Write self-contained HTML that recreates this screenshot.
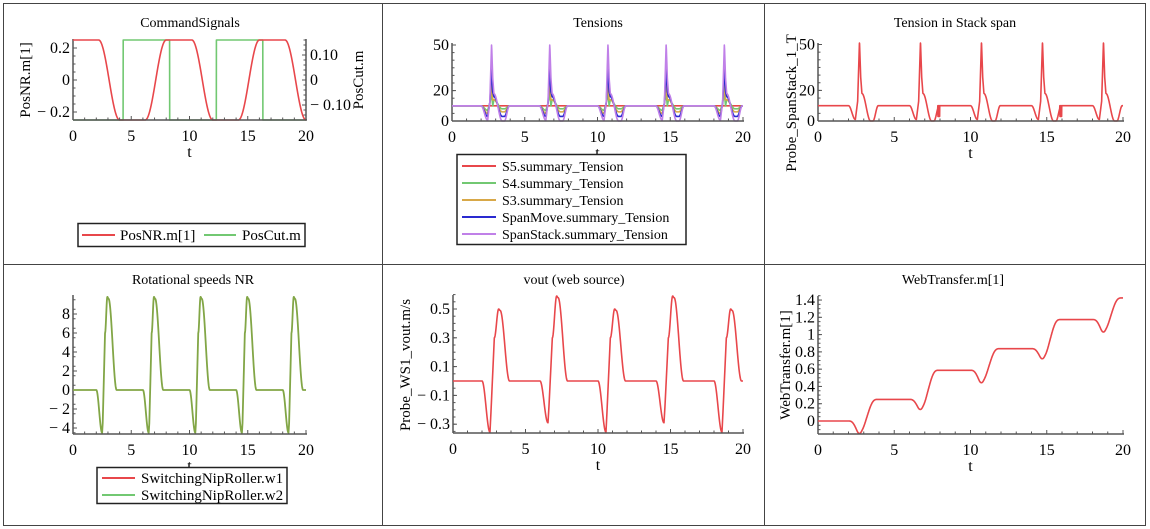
<!DOCTYPE html>
<html><head><meta charset="utf-8">
<style>
html,body{margin:0;padding:0;background:#fff;}
svg{display:block;font-family:"Liberation Serif",serif;}
</style></head>
<body>
<svg id="s" width="1150" height="529" viewBox="0 0 1150 529" xmlns="http://www.w3.org/2000/svg">
<rect x="0" y="0" width="1150" height="529" fill="#fff"/>
<g stroke="#444" stroke-width="1" fill="none">
<rect x="3.5" y="3.5" width="1142" height="522"/>
<line x1="382.5" y1="3.5" x2="382.5" y2="525.5"/>
<line x1="764.5" y1="3.5" x2="764.5" y2="525.5"/>
<line x1="3.5" y1="264.5" x2="1145.5" y2="264.5"/>
</g>
<g id="content"></g>
</svg>
<script>
(function(){
var out=[];
function cos01(a,b,u){return a+(b-a)*(1-Math.cos(Math.PI*u))/2;}
function lin(a,b,u){return a+(b-a)*u;}
function seg(tau,pts){
  for(var i=0;i<pts.length-1;i++){
    if(tau>=pts[i][0]&&tau<=pts[i+1][0]){
      var u=(tau-pts[i][0])/(pts[i+1][0]-pts[i][0]);
      return (pts[i+1][2]==='l')?lin(pts[i][1],pts[i+1][1],u):cos01(pts[i][1],pts[i+1][1],u);
    }
  }
  return pts[pts.length-1][1];
}
function periodic(t,fn){
  if(t<2) return fn(-1,0);
  var k=Math.floor((t-2)/4);var tau=t-2-4*k;
  return fn(k,tau);
}
function vout(t){return periodic(t,function(k,tau){
  if(k<0) return 0;
  var A=(k%2==0)?0.355:0.29,P=(k%2==0)?0.5:0.59;
  return seg(tau,[[0,0],[0.55,-A],[0.62,-A*0.6,'l'],[0.85,0.3,'l'],[1.15,P],[1.25,P*0.98],[1.9,0.0],[4,0]]);
});}
function omega(t){return periodic(t,function(k,tau){
  if(k<0) return 0;
  return seg(tau,[[0,0],[0.5,-4.5],[0.55,-3.5,'l'],[0.75,6,'l'],[0.95,9.8],[1.05,9.6],[1.75,0],[4,0]]);
});}
function tens(lo1,peak,sh,lo2){return function(t){return periodic(t,function(k,tau){
  if(k<0) return 10;
  return seg(tau,[[0,10],[0.45,lo1],[0.6,lo1+(sh-lo1)*0.7,'l'],[0.72,peak,'l'],[0.8,peak*0.55,'l'],[0.88,sh,'l'],[1.45,lo2],[1.6,lo2],[1.95,10],[4,10]]);
});};}
function path(fn,x0,x1,ym,color,w,n){
  n=n||1200;var d='';
  for(var i=0;i<=n;i++){var t=20*i/n;var x=x0+(x1-x0)*t/20;var y=ym(fn(t));
    d+=(i?'L':'M')+x.toFixed(2)+' '+y.toFixed(2);}
  out.push('<path d="'+d+'" fill="none" stroke="'+color+'" stroke-width="'+(w||1.6)+'" stroke-linejoin="round"/>');
}
function text(x,y,s,opt){opt=opt||{};
  out.push('<text x="'+x+'" y="'+y+'" font-size="'+(opt.fs||15)+'" text-anchor="'+(opt.a||'middle')+'"'+(opt.rot?' transform="rotate(-90 '+x+' '+y+')"':'')+' fill="#000">'+s+'</text>');}
function xaxis(x0,x1,y){
  out.push('<line x1="'+x0+'" y1="'+y+'" x2="'+(x1+1)+'" y2="'+y+'" stroke="#555" stroke-width="1.5"/>');
  for(var i=0;i<=20;i++){var x=x0+(x1-x0)*i/20;var L=(i%5==0)?4:2.5;
    out.push('<line x1="'+x+'" y1="'+y+'" x2="'+x+'" y2="'+(y-L)+'" stroke="#555" stroke-width="1"/>');}
  for(var j=0;j<=4;j++){text(x0+(x1-x0)*j/4,y+21,String(j*5),{fs:16});}
  text((x0+x1)/2,y+37,'t',{fs:16});
}
function yaxis(x,ytop,ybot,ticks,minor,ym,side){
  side=side||1;
  out.push('<line x1="'+x+'" y1="'+ytop+'" x2="'+x+'" y2="'+ybot+'" stroke="#555" stroke-width="1.5"/>');
  minor.forEach(function(v){var y=ym(v);out.push('<line x1="'+x+'" y1="'+y+'" x2="'+(x+2.5*side)+'" y2="'+y+'" stroke="#555" stroke-width="1"/>');});
  ticks.forEach(function(tk){var y=ym(tk[0]);
    out.push('<line x1="'+x+'" y1="'+y+'" x2="'+(x+4*side)+'" y2="'+y+'" stroke="#555" stroke-width="1"/>');
    if(side>0) text(x-3,y+5,tk[1],{fs:16,a:'end'}); else text(x+4,y+5,tk[1],{fs:16,a:'start'});});
}
function rng(a,b,s){var r=[];for(var v=a;v<=b+1e-9;v+=s)r.push(v);return r;}
var RED='#e8474b',GRN='#72c872',ORG='#d8a848',BLU='#2a2ad0',PUR='#c080e8',OLV='#82a646';

(function(){
 var X0=73,X1=306,ym=function(v){return 80-160*v;},ym2=function(v){return 80-250*v;};
 text(190,27,'CommandSignals',{fs:14});
 yaxis(X0,39,120,[[0.2,'0.2'],[0,'0'],[-0.2,'− 0.2']],rng(-0.25,0.25,0.05),ym);
 yaxis(X1,39,120,[[0.1,'0.10'],[0,'0'],[-0.1,'− 0.10']],rng(-0.16,0.16,0.02),ym2,-1);
 text(30,80,'PosNR.m[1]',{fs:15,rot:1});
 text(363,80,'PosCut.m',{fs:15,rot:1});
 var cut=function(t){return ((t>4.3&&t<8.3)||(t>12.3&&t<16.3))?0.16:-0.16;};
 path(cut,X0,X1,ym2,GRN,1.6,2000);
 var pos=function(t){var p=t%8;
   if(p<2.2) return 0.25; if(p<4) return cos01(0.25,-0.25,(p-2.2)/1.8);
   if(p<6.2) return -0.25; return cos01(-0.25,0.25,(p-6.2)/1.8);};
 path(pos,X0,X1,ym,RED);
 xaxis(X0,X1,120);
 out.push('<rect x="78" y="223.5" width="227" height="23" fill="none" stroke="#222" stroke-width="1.5"/>');
 out.push('<line x1="82" y1="235" x2="115" y2="235" stroke="'+RED+'" stroke-width="2"/>');
 text(120,240,'PosNR.m[1]',{fs:15,a:'start'});
 out.push('<line x1="204" y1="235" x2="236" y2="235" stroke="'+GRN+'" stroke-width="2"/>');
 text(242,240,'PosCut.m',{fs:15,a:'start'});
})();

(function(){
 var X0=452,X1=743,ym=function(v){return 121-1.52*v;};
 text(598,27,'Tensions',{fs:14});
 yaxis(X0,43,121,[[50,'50'],[20,'20'],[0,'0']],rng(0,50,5),ym);
 path(function(){return 10;},X0,X1,ym,RED);
 path(tens(7,18,14,8),X0,X1,ym,GRN);
 path(tens(5,25,14,6),X0,X1,ym,ORG);
 path(tens(3,35,16,3),X0,X1,ym,BLU);
 path(tens(0.5,51,18,0),X0,X1,ym,PUR);
 xaxis(X0,X1,121);
 out.push('<rect x="457" y="154.5" width="229" height="90" fill="#fff" stroke="#222" stroke-width="1.5"/>');
 var L=[['S5.summary_Tension',RED],['S4.summary_Tension',GRN],['S3.summary_Tension',ORG],['SpanMove.summary_Tension',BLU],['SpanStack.summary_Tension',PUR]];
 L.forEach(function(e,i){var y=166+17*i;
   out.push('<line x1="462" y1="'+y+'" x2="496" y2="'+y+'" stroke="'+e[1]+'" stroke-width="2"/>');
   text(502,y+5,e[0],{fs:14,a:'start'});});
})();

(function(){
 var X0=818,X1=1123,ym=function(v){return 121-1.53*v;};
 text(955,27,'Tension in Stack span',{fs:14});
 yaxis(X0,43,121,[[50,'50'],[20,'20'],[0,'0']],rng(0,50,5),ym);
 text(796,103,'Probe_SpanStack_1_T',{fs:15,rot:1});
 var f=tens(1,52,18,0);
 path(function(t){var v=f(t);var p=(t-2)%8; if(p>5.85&&p<6.0) v=(Math.floor(t*60)%2)?10:3; return v;},X0,X1,ym,RED,1.6,2400);
 xaxis(X0,X1,121);
})();

(function(){
 var X0=73,X1=306,ym=function(v){return 390-9.5*v;};
 text(193,284,'Rotational speeds NR',{fs:14});
 yaxis(X0,295,434,[[8,'8'],[6,'6'],[4,'4'],[2,'2'],[0,'0'],[-2,'− 2'],[-4,'− 4']],rng(-4.5,9.5,1),ym);
 path(omega,X0,X1,ym,OLV,1.8);
 xaxis(X0,X1,434);
 out.push('<rect x="97" y="467.5" width="190" height="36" fill="#fff" stroke="#222" stroke-width="1.5"/>');
 out.push('<line x1="102" y1="478" x2="135" y2="478" stroke="'+RED+'" stroke-width="2"/>');
 text(141,483,'SwitchingNipRoller.w1',{fs:15,a:'start'});
 out.push('<line x1="102" y1="495" x2="135" y2="495" stroke="'+GRN+'" stroke-width="2"/>');
 text(141,500,'SwitchingNipRoller.w2',{fs:15,a:'start'});
})();

(function(){
 var X0=453,X1=743,ym=function(v){return 381-144*v;};
 text(574,284,'vout (web source)',{fs:14});
 yaxis(X0,295,433,[[0.5,'0.5'],[0.3,'0.3'],[0.1,'0.1'],[-0.1,'− 0.1'],[-0.3,'− 0.3']],rng(-0.35,0.6,0.05),ym);
 text(410,365,'Probe_WS1_vout.m/s',{fs:15,rot:1});
 path(vout,X0,X1,ym,RED);
 xaxis(X0,X1,433);
})();

(function(){
 var X0=818,X1=1123,ym=function(v){return 421-86.4*v;};
 text(953,284,'WebTransfer.m[1]',{fs:14});
 yaxis(X0,296,434,[[1.4,'1.4'],[1.2,'1.2'],[1,'1'],[0.8,'0.8'],[0.6,'0.6'],[0.4,'0.4'],[0.2,'0.2'],[0,'0']],rng(-0.1,1.45,0.05),ym);
 text(790,365,'WebTransfer.m[1]',{fs:15,rot:1});
 var N=4000,acc=[0],dt=20/N;
 for(var i=1;i<=N;i++){acc.push(acc[i-1]+vout((i-0.5)*dt)*dt);}
 var sc=0.25/acc[Math.round(6/dt)];
 path(function(t){return acc[Math.min(N,Math.round(t/dt))]*sc;},X0,X1,ym,RED);
 xaxis(X0,X1,434);
})();

document.getElementById('content').innerHTML=out.join('');
})();
</script>
</body></html>
